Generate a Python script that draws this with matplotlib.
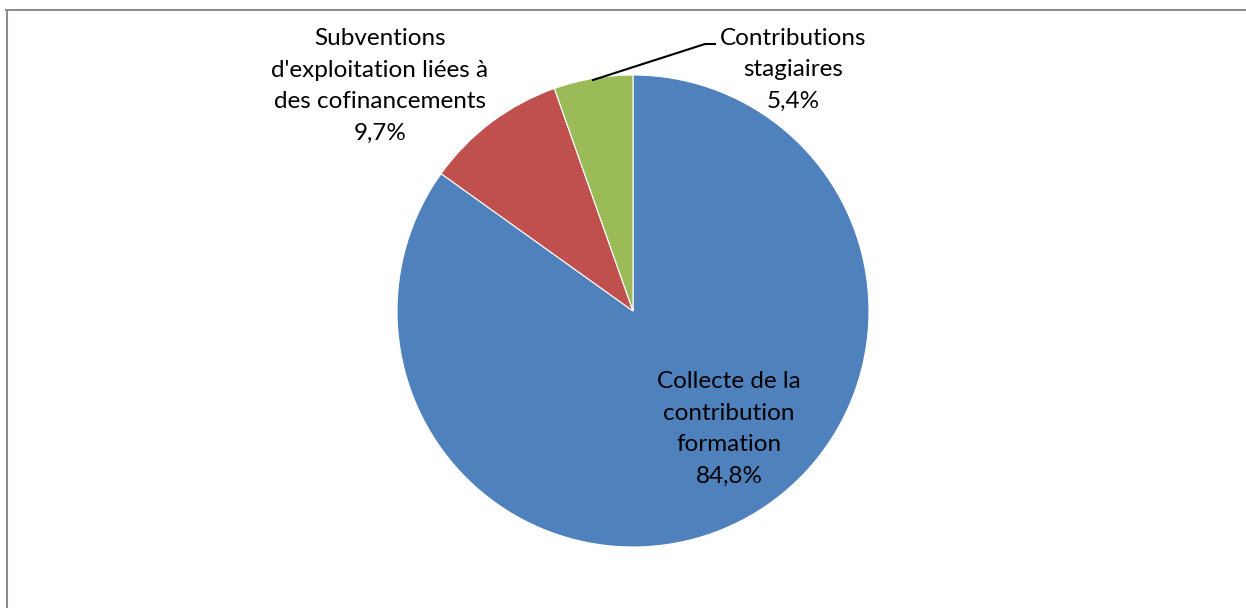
import matplotlib.pyplot as plt
from matplotlib.lines import Line2D

plt.rcParams["font.family"] = ["Lato", "DejaVu Sans"]

# Données du graphique
categories = [
    "Collecte de la\ncontribution\nformation",
    "Subventions\nd'exploitation liées à\ndes cofinancements",
    "Contributions\nstagiaires",
]
parts = [84.8, 9.7, 5.4]
couleurs = ["#4F81BD", "#C0504D", "#9BBB59"]

W, H = 1246, 608

fig = plt.figure(figsize=(W / 100, H / 100), dpi=100)
ax = fig.add_axes([0, 0, 1, 1])

ax.pie(
    parts,
    colors=couleurs,
    startangle=90,
    counterclock=False,
    center=(633, H - 311),
    radius=236,
    wedgeprops=dict(edgecolor="white", linewidth=0.8),
)
ax.set_xlim(0, W)
ax.set_ylim(0, H)
ax.set_aspect("equal")
ax.axis("off")


def etiquette(i, x, y):
    txt = f"{categories[i]}\n{parts[i]:.1f}%".replace(".", ",")
    ax.text(x, H - y, txt, ha="center", va="center", fontsize=17.5,
            linespacing=1.63, color="black")


etiquette(0, 729, 429)
etiquette(1, 380, 86)
etiquette(2, 793, 70)

# ligne de rappel pour la petite part
ax.plot([593, 705, 715], [H - 80, H - 44, H - 44], color="black", lw=1.5)

# cadre du graphique (haut et gauche seulement)
fig.add_artist(Line2D([6 / W, 1], [1 - 9.5 / H, 1 - 9.5 / H],
                      transform=fig.transFigure, color="#8c8c8c", lw=1.5))
fig.add_artist(Line2D([6.5 / W, 6.5 / W], [0, 1 - 9.5 / H],
                      transform=fig.transFigure, color="#8c8c8c", lw=1.5))

plt.savefig("out.png", dpi=100)
plt.close()
